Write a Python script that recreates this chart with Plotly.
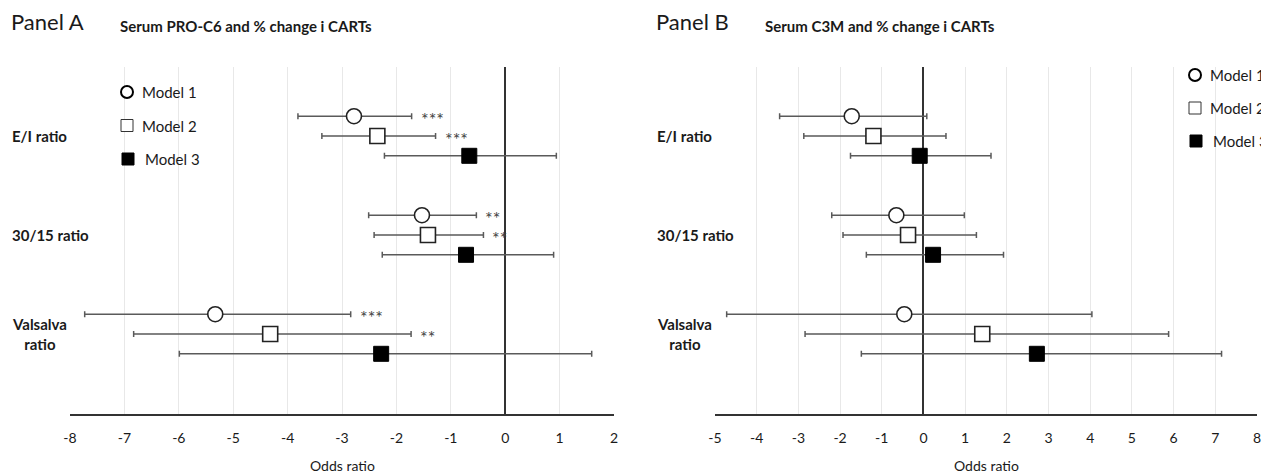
import plotly.graph_objects as go

# ---------------- data ----------------
categories = ["E/I ratio", "30/15 ratio", "Valsalva<br>ratio"]
model_names = ["Model 1", "Model 2", "Model 3"]

# Panel A: Serum PRO-C6
a_m1_est = [-2.78, -1.53, -5.33]
a_m1_lo = [-3.81, -2.51, -7.73]
a_m1_hi = [-1.72, -0.53, -2.84]
a_m1_sig = ["***", "**", "***"]

a_m2_est = [-2.35, -1.42, -4.32]
a_m2_lo = [-3.37, -2.41, -6.83]
a_m2_hi = [-1.28, -0.40, -1.73]
a_m2_sig = ["***", "**", "**"]

a_m3_est = [-0.66, -0.72, -2.28]
a_m3_lo = [-2.22, -2.26, -5.99]
a_m3_hi = [0.94, 0.89, 1.59]
a_m3_sig = ["", "", ""]

# Panel B: Serum C3M
b_m1_est = [-1.72, -0.65, -0.46]
b_m1_lo = [-3.45, -2.20, -4.72]
b_m1_hi = [0.08, 0.98, 4.04]

b_m2_est = [-1.20, -0.37, 1.41]
b_m2_lo = [-2.87, -1.93, -2.84]
b_m2_hi = [0.54, 1.27, 5.88]

b_m3_est = [-0.09, 0.23, 2.72]
b_m3_lo = [-1.75, -1.37, -1.49]
b_m3_hi = [1.62, 1.92, 7.15]

xticks_a = list(range(-8, 3))
xticklabels_a = ["-8", "-7", "-6", "-5", "-4", "-3", "-2", "-1", "0", "1", "2"]
xticks_b = list(range(-5, 9))
xticklabels_b = ["-5", "-4", "-3", "-2", "-1", "0", "1", "2", "3", "4", "5", "6", "7", "8"]

# ---------------- layout helpers ----------------
W, H = 1261, 473
FONT = "Lato"
TXT = "#1a1a1a"
def px(x):
    return x / W
def py(y):
    return 1 - y / H

offsets = [-0.2, 0.0, 0.2]
styles = [
    dict(symbol="circle", color="white", line=dict(color="#222222", width=1.6)),
    dict(symbol="square", color="white", line=dict(color="#222222", width=1.6)),
    dict(symbol="square", color="black", line=dict(color="black", width=1)),
]

fig = go.Figure()

def add_panel(ests, los, his, xa, ya):
    for k, (est, lo, hi) in enumerate(zip(ests, los, his)):
        ys = [i + 1 + offsets[k] for i in range(len(est))]
        fig.add_trace(go.Scatter(
            x=est, y=ys, mode="markers", name=model_names[k], showlegend=False,
            xaxis=xa, yaxis=ya,
            marker=dict(size=15, **styles[k]),
            error_x=dict(type="data", symmetric=False,
                         array=[h - e for h, e in zip(hi, est)],
                         arrayminus=[e - l for e, l in zip(est, lo)],
                         color="#5a5a5a", thickness=1.5, width=3),
        ))

add_panel([a_m1_est, a_m2_est, a_m3_est], [a_m1_lo, a_m2_lo, a_m3_lo],
          [a_m1_hi, a_m2_hi, a_m3_hi], "x", "y")
add_panel([b_m1_est, b_m2_est, b_m3_est], [b_m1_lo, b_m2_lo, b_m3_lo],
          [b_m1_hi, b_m2_hi, b_m3_hi], "x2", "y2")

annotations = []
# significance stars (panel A)
for k, (hi, sig) in enumerate(zip([a_m1_hi, a_m2_hi, a_m3_hi], [a_m1_sig, a_m2_sig, a_m3_sig])):
    for i, s in enumerate(sig):
        if s:
            annotations.append(dict(x=hi[i], y=i + 1 + offsets[k], xref="x", yref="y",
                                    text=s, showarrow=False, xanchor="left", yanchor="middle",
                                    xshift=7, yshift=-3,
                                    font=dict(family=FONT, size=18, color="#444444")))

# category labels
for i, c in enumerate(categories):
    for xl, yr in [(10, "y"), (655, "y2")]:
        annotations.append(dict(x=px(xl), y=i + 1, xref="paper", yref=yr, text="<b>%s</b>" % c,
                                showarrow=False, xanchor="left", yanchor="middle", align="center",
                                font=dict(family=FONT, size=15, color=TXT)))

# titles
annotations += [
    dict(x=px(9), y=py(22), xref="paper", yref="paper", text="Panel A", showarrow=False,
         xanchor="left", yanchor="middle", font=dict(family=FONT, size=22, color=TXT)),
    dict(x=px(118), y=py(26), xref="paper", yref="paper", text="<b>Serum PRO-C6 and % change i CARTs</b>",
         showarrow=False, xanchor="left", yanchor="middle", font=dict(family=FONT, size=15, color=TXT)),
    dict(x=px(654), y=py(22), xref="paper", yref="paper", text="Panel B", showarrow=False,
         xanchor="left", yanchor="middle", font=dict(family=FONT, size=22, color=TXT)),
    dict(x=px(763), y=py(26), xref="paper", yref="paper", text="<b>Serum C3M and % change i CARTs</b>",
         showarrow=False, xanchor="left", yanchor="middle", font=dict(family=FONT, size=15, color=TXT)),
    dict(x=px(342), y=py(465), xref="paper", yref="paper", text="Odds ratio", showarrow=False,
         xanchor="center", yanchor="middle", font=dict(family=FONT, size=14, color=TXT)),
    dict(x=px(986), y=py(465), xref="paper", yref="paper", text="Odds ratio", showarrow=False,
         xanchor="center", yanchor="middle", font=dict(family=FONT, size=14, color=TXT)),
]

# manual legends
shapes = []
def legend(x0, y0, dy):
    for k in range(3):
        cx, cy = px(x0), py(y0 + k * dy)
        r = 6
        if k == 0:
            shapes.append(dict(type="circle", xref="paper", yref="paper", xsizemode="pixel",
                               ysizemode="pixel", xanchor=cx, yanchor=cy, x0=-r, x1=r, y0=-r, y1=r,
                               line=dict(color="black", width=2), fillcolor="white"))
        else:
            shapes.append(dict(type="rect", xref="paper", yref="paper", xsizemode="pixel",
                               ysizemode="pixel", xanchor=cx + (px(1) if k == 2 else 0), yanchor=cy,
                               x0=-r, x1=r, y0=-r, y1=r,
                               line=dict(color="#333333" if k == 1 else "black", width=1),
                               fillcolor="white" if k == 1 else "black"))
        annotations.append(dict(x=px(x0 + 13 + (3 if k == 2 else 0)), y=cy, xref="paper", yref="paper",
                                text=model_names[k], showarrow=False, xanchor="left", yanchor="middle",
                                font=dict(family=FONT, size=15, color=TXT)))

legend(127, 92, 33.5)
legend(1195, 75, 33)

y_top, y_bot = 67, 414
ydom = [py(y_bot), py(y_top)]
yrange = [3.808, 0.303]

xcommon = dict(showgrid=True, gridcolor="#e8e8e8", gridwidth=1, zeroline=True,
               zerolinecolor="#333333", zerolinewidth=1.5, showline=True, linecolor="#333333",
               linewidth=1.5, ticks="", tickfont=dict(family=FONT, size=14, color=TXT),
               ticklabelstandoff=10, ticklabeloverflow="allow", automargin=False, fixedrange=True)
ycommon = dict(range=yrange, showgrid=False, zeroline=False, showline=False,
               showticklabels=False, ticks="", automargin=False, domain=ydom, fixedrange=True)

fig.update_layout(
    width=W, height=H,
    margin=dict(l=0, r=0, t=0, b=0),
    paper_bgcolor="white", plot_bgcolor="white",
    xaxis=dict(domain=[px(70), px(614)], range=[-8, 2], tickvals=xticks_a, ticktext=xticklabels_a,
               anchor="y", **xcommon),
    yaxis=dict(anchor="x", **ycommon),
    xaxis2=dict(domain=[px(715), px(1257)], range=[-5, 8], tickvals=xticks_b, ticktext=xticklabels_b,
                anchor="y2", **xcommon),
    yaxis2=dict(anchor="x2", **ycommon),
    annotations=annotations,
    shapes=shapes,
    showlegend=False,
)

fig.write_html("out.html", config={"displayModeBar": False},
               post_script="document.body.style.margin='0px';document.body.style.overflow='hidden';")
